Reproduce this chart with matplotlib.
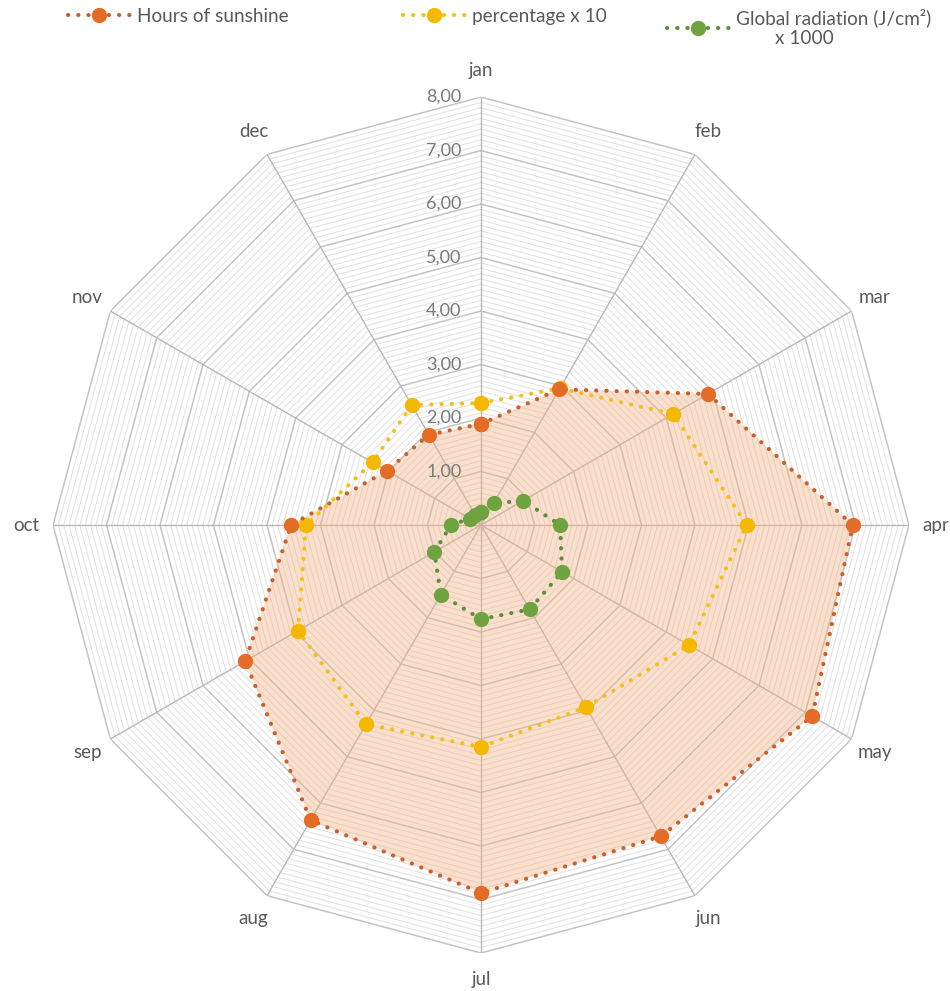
import numpy as np
import matplotlib
matplotlib.use('Agg')
import matplotlib.pyplot as plt
import matplotlib.transforms as mtransforms

months = ['jan', 'feb', 'mar', 'apr', 'may', 'jun', 'jul', 'aug', 'sep', 'oct', 'nov', 'dec']
sunshine_hours = [1.89, 2.93, 4.90, 6.95, 7.15, 6.72, 6.88, 6.37, 5.09, 3.55, 2.03, 1.95]
percentage_x10 = [2.28, 2.95, 4.15, 4.97, 4.49, 3.93, 4.15, 4.30, 3.95, 3.27, 2.34, 2.59]
global_radiation_x1000 = [0.25, 0.47, 0.91, 1.48, 1.75, 1.82, 1.76, 1.50, 1.01, 0.56, 0.24, 0.22]
series_labels = ['Hours of sunshine', 'percentage x 10', 'Global radiation (J/cm²)\n        x 1000']
r_tick_values = [1, 2, 3, 4, 5, 6, 7, 8]
r_tick_labels = ['1,00', '2,00', '3,00', '4,00', '5,00', '6,00', '7,00', '8,00']
r_max = 8

plt.rcParams['font.family'] = ['Lato', 'DejaVu Sans']

fig = plt.figure(figsize=(9.5, 9.91), dpi=100)
ax = fig.add_axes([0.0558, 0.0383, 0.901, 0.8638], projection='polar')
ax.set_theta_zero_location('N')
ax.set_theta_direction(-1)
ax.set_ylim(0, r_max)
ax.grid(False)
ax.spines['polar'].set_visible(False)
ax.set_xticks([])
ax.set_yticks([])
ax.patch.set_alpha(0)

n = len(months)
theta = np.linspace(0, 2 * np.pi, n, endpoint=False)
theta_c = np.append(theta, theta[0])


def closed(v):
    return list(v) + [v[0]]


# polygon grid: minor every 0.1, major every 1
for k in range(1, r_max * 10 + 1):
    r = k / 10
    major = (k % 10 == 0)
    ax.plot(theta_c, [r] * (n + 1),
            color='#c4c4c4' if major else '#e1e1e1',
            lw=1.1 if major else 0.7, zorder=1)
for t in theta:
    ax.plot([t, t], [0, r_max], color='#b8b8b8', lw=1.0, zorder=1)

# filled area for hours of sunshine
ax.fill(theta_c, closed(sunshine_hours), color='#F4B183', alpha=0.40, lw=0, zorder=2)

dot = (0, (0.05, 2.4))
l1, = ax.plot(theta_c, closed(sunshine_hours), linestyle=dot, dash_capstyle='round',
              color='#C8612E', lw=3.0, marker='o', ms=10, mfc='#E46C26', mec='#E46C26',
              zorder=5, label=series_labels[0])
l2, = ax.plot(theta_c, closed(percentage_x10), linestyle=dot, dash_capstyle='round',
              color='#F2C21B', lw=3.0, marker='o', ms=10, mfc='#F5B800', mec='#F5B800',
              zorder=4, label=series_labels[1])
l3, = ax.plot(theta_c, closed(global_radiation_x1000), linestyle=dot, dash_capstyle='round',
              color='#5E8F3A', lw=3.0, marker='o', ms=10, mfc='#6FA33F', mec='#6FA33F',
              zorder=6, label=series_labels[2])

# radial labels along the jan axis
off = mtransforms.offset_copy(ax.transData, fig=fig, x=-14, y=0, units='points')
for v, lab in zip(r_tick_values, r_tick_labels):
    ax.text(0, v, lab, transform=off, ha='right', va='center',
            color='#7a7a7a', fontsize=13, zorder=7)

# month labels
for t, m in zip(theta, months):
    ax.text(t, 8.5, m, ha='center', va='center', color='#595959', fontsize=13.5)

# legend entries
anchors = [68, 403, 667]
for h, x in zip([l1, l2, l3], anchors):
    fig.legend(handles=[h], loc='upper left', bbox_to_anchor=(x / 950, 1 - 8 / 991),
               frameon=False, fontsize=13.7, handlelength=3.3, handletextpad=0.35,
               borderpad=0, borderaxespad=0, labelcolor='#595959', numpoints=1,
               labelspacing=0.2)

fig.savefig('out.png', dpi=100)
